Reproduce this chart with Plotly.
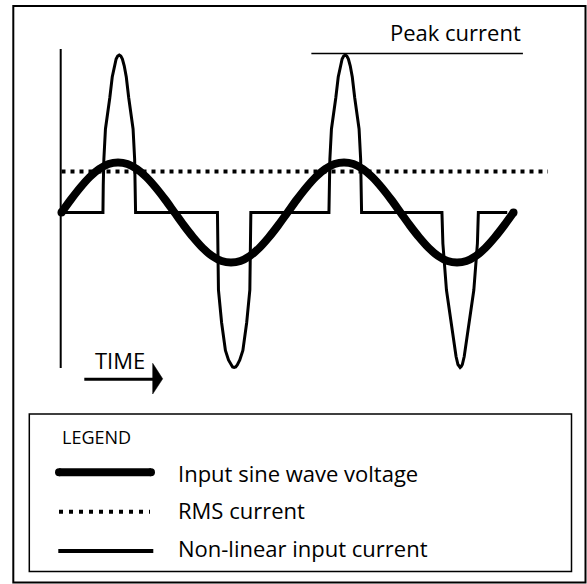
import plotly.graph_objects as go

W, H = 587, 584

# ---------------- data (time in electrical degrees, amplitude in units of the voltage peak)
voltage_t = [0, 15, 30, 45, 60, 75, 90, 105, 120, 135, 150, 165, 180,
             195, 210, 225, 240, 255, 270, 285, 300, 315, 330, 345, 360,
             375, 390, 405, 420, 435, 450, 465, 480, 495, 510, 525, 540,
             555, 570, 585, 600, 615, 630, 645, 660, 675, 690, 705, 720]
voltage_v = [0, 0.26, 0.5, 0.71, 0.87, 0.97, 1, 0.97, 0.87, 0.71, 0.5, 0.26, 0,
             -0.26, -0.5, -0.71, -0.87, -0.97, -1, -0.97, -0.87, -0.71, -0.5, -0.26, 0,
             0.26, 0.5, 0.71, 0.87, 0.97, 1, 0.97, 0.87, 0.71, 0.5, 0.26, 0,
             -0.26, -0.5, -0.71, -0.87, -0.97, -1, -0.97, -0.87, -0.71, -0.5, -0.26, 0]

current_t = [0, 66, 66.5, 67.5, 70, 74.5, 77, 80.8, 84, 87, 89.5, 92, 94.5, 97, 100,
             103.2, 107, 109.5, 114, 116.5, 117.5, 118,
             248.4, 249, 250, 255, 261.1, 266, 270, 272.5, 275, 277.5, 280, 284,
             288.9, 295, 300, 301, 301.6,
             426, 426.5, 427.5, 430, 434.5, 437, 440.8, 444, 447, 449.5, 452, 454.5,
             457, 460, 463.2, 467, 469.5, 474, 476.5, 477.5, 478,
             606, 607.5, 613.2, 624.3, 628.5, 631.5, 633.3, 635, 636.7, 638.5,
             641.5, 645.7, 656.8, 662.5, 664, 710]
current_v = [0, 0, 0.54, 1.07, 1.67, 2.05, 2.3, 2.71, 2.93, 3.07, 3.13, 3.15, 3.13, 3.07, 2.93,
             2.71, 2.3, 2.05, 1.67, 1.07, 0.54, 0,
             0, -0.78, -1.55, -2.2, -2.76, -2.95, -3.05, -3.09, -3.1, -3.09, -3.05, -2.95,
             -2.76, -2.2, -1.55, -0.78, 0,
             0, 0.54, 1.07, 1.67, 2.05, 2.3, 2.71, 2.93, 3.07, 3.13, 3.15, 3.13,
             3.07, 2.93, 2.71, 2.3, 2.05, 1.67, 1.07, 0.54, 0,
             0, -0.62, -1.55, -2.54, -2.88, -3.04, -3.08, -3.1, -3.08, -3.04,
             -2.88, -2.54, -1.55, -0.62, 0, 0]

rms_t = [0, 775]
rms_v = [0.82, 0.82]

peak_t = [398, 735]
peak_v = [3.18, 3.18]

legend_labels = ["Input sine wave voltage", "RMS current", "Non-linear input current"]

# ---------------- helpers for pixel -> paper placement
def X(px):
    return px / W

def Y(py):
    return 1 - py / H

FONT = "Open Sans"

fig = go.Figure()

fig.add_trace(go.Scatter(x=rms_t, y=rms_v, mode="lines",
                         line=dict(color="black", width=4, dash="4px,5px"),
                         hoverinfo="skip"))
fig.add_trace(go.Scatter(x=voltage_t, y=voltage_v, mode="lines",
                         line=dict(color="black", width=8, shape="spline"),
                         hoverinfo="skip"))
fig.add_trace(go.Scatter(x=[voltage_t[0], voltage_t[-1]], y=[voltage_v[0], voltage_v[-1]],
                         mode="markers", marker=dict(color="black", size=8),
                         hoverinfo="skip"))
fig.add_trace(go.Scatter(x=current_t, y=current_v, mode="lines",
                         line=dict(color="black", width=3),
                         hoverinfo="skip"))
fig.add_trace(go.Scatter(x=peak_t, y=peak_v, mode="lines",
                         line=dict(color="black", width=1.5),
                         hoverinfo="skip"))

shapes = []
# outer frame
shapes.append(dict(type="rect", xref="paper", yref="paper",
                   x0=X(13.3), x1=X(585.5), y0=Y(6), y1=Y(582.5),
                   line=dict(color="black", width=2), fillcolor="rgba(0,0,0,0)"))
# vertical axis
shapes.append(dict(type="line", xref="paper", yref="paper",
                   x0=X(60.7), x1=X(60.7), y0=Y(49), y1=Y(368),
                   line=dict(color="black", width=2)))
# time arrow shaft + head
shapes.append(dict(type="line", xref="paper", yref="paper",
                   x0=X(84.3), x1=X(154), y0=Y(379.3), y1=Y(379.3),
                   line=dict(color="black", width=3)))
shapes.append(dict(type="path", xref="paper", yref="paper",
                   path=f"M {X(152.7)},{Y(363.3)} L {X(162.7)},{Y(378.8)} L {X(152.7)},{Y(394)} Z",
                   fillcolor="black", line=dict(color="black", width=0.5)))
# legend box
shapes.append(dict(type="rect", xref="paper", yref="paper",
                   x0=X(29.3), x1=X(571.5), y0=Y(414), y1=Y(571.5),
                   line=dict(color="black", width=1.5), fillcolor="rgba(0,0,0,0)"))
# legend samples
shapes.append(dict(type="line", xref="paper", yref="paper",
                   x0=X(59), x1=X(151), y0=Y(472.3), y1=Y(472.3),
                   line=dict(color="black", width=8)))
for cx in (59, 151):
    shapes.append(dict(type="circle", xref="paper", yref="paper",
                       x0=X(cx - 4), x1=X(cx + 4), y0=Y(472.3 - 4), y1=Y(472.3 + 4),
                       fillcolor="black", line=dict(width=0)))
shapes.append(dict(type="line", xref="paper", yref="paper",
                   x0=X(59), x1=X(150), y0=Y(511.7), y1=Y(511.7),
                   line=dict(color="black", width=4, dash="4px,6px")))
shapes.append(dict(type="line", xref="paper", yref="paper",
                   x0=X(58.3), x1=X(153.3), y0=Y(551), y1=Y(551),
                   line=dict(color="black", width=4)))

annotations = [
    dict(text="Peak current", x=peak_t[1], y=3.61, xref="x", yref="y",
         xanchor="right", yanchor="middle", showarrow=False,
         font=dict(family=FONT, size=22, color="black")),
    dict(text="TIME", x=X(93), y=Y(359.5), xref="paper", yref="paper",
         xanchor="left", yanchor="middle", showarrow=False,
         font=dict(family=FONT, size=22, color="black")),
    dict(text="LEGEND", x=X(60), y=Y(436.7), xref="paper", yref="paper",
         xanchor="left", yanchor="middle", showarrow=False,
         font=dict(family=FONT, size=18, color="black")),
]
for lab, cy in zip(legend_labels, (473.3, 510, 548.3)):
    annotations.append(dict(text=lab, x=X(176), y=Y(cy), xref="paper", yref="paper",
                            xanchor="left", yanchor="middle", showarrow=False,
                            font=dict(family=FONT, size=22, color="black")))

fig.update_layout(
    width=W, height=H,
    margin=dict(l=0, r=0, t=0, b=0, pad=0),
    paper_bgcolor="white", plot_bgcolor="white",
    showlegend=False,
    xaxis=dict(range=[-97.97, 837.07], visible=False, fixedrange=True),
    yaxis=dict(range=[-7.43, 4.25], visible=False, fixedrange=True),
    shapes=shapes,
    annotations=annotations,
)

# remove the browser's default 8px page margin so the figure sits at the window origin
fig.write_html(
    "out.html",
    config={"displayModeBar": False},
    post_script="document.body.style.margin='0';document.body.style.padding='0';"
                "document.documentElement.style.overflow='hidden';",
)
